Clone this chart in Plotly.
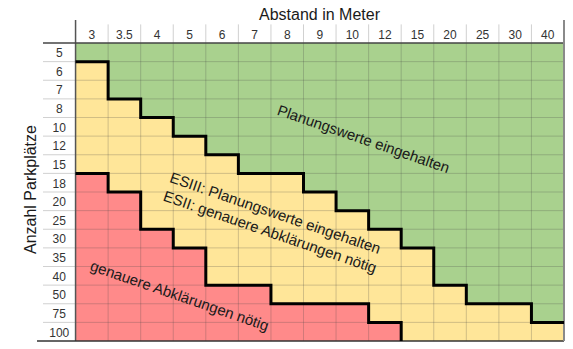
import plotly.graph_objects as go

# Distances (columns) and number of parking spaces (rows)
abstand = ["3", "3.5", "4", "5", "6", "7", "8", "9", "10", "12", "15", "20", "25", "30", "40"]
parkplaetze = ["5", "6", "7", "8", "10", "12", "15", "18", "20", "25", "30", "35", "40", "50", "75", "100"]

# Index of the first row that is no longer green (per column)
grenze_gruen = [1, 3, 4, 5, 6, 7, 7, 8, 9, 10, 11, 13, 14, 14, 15]
# Index of the first red row (per column); 16 = no red cells
grenze_rot = [7, 8, 10, 11, 13, 13, 14, 14, 14, 15, 16, 16, 16, 16, 16]

GREEN = "#A9D18E"
YELLOW = "#FFE699"
RED = "#FF8A8A"
FONT = "Liberation Sans, Arial, sans-serif"

n_cols = len(abstand)
n_rows = len(parkplaetze)

# zone per cell: 0 green, 1 yellow, 2 red
z = []
for r in range(n_rows):
    row = []
    for c in range(n_cols):
        if r < grenze_gruen[c]:
            row.append(0)
        elif r < grenze_rot[c]:
            row.append(1)
        else:
            row.append(2)
    z.append(row)

fig = go.Figure()

fig.add_trace(go.Heatmap(
    x=list(range(n_cols)), y=list(range(n_rows)), z=z,
    zmin=0, zmax=2, showscale=False, hoverinfo="skip",
    colorscale=[[0, GREEN], [1/3, GREEN], [1/3, YELLOW], [2/3, YELLOW], [2/3, RED], [1, RED]],
))

# thin grid lines (cells + header row/column)
gx, gy = [], []
for i in range(n_cols - 1):
    gx += [i + 0.5, i + 0.5, None]
    gy += [-1.5, n_rows - 0.5, None]
for j in range(n_rows - 1):
    gx += [-1.5, n_cols - 0.5, None]
    gy += [j + 0.5, j + 0.5, None]
fig.add_trace(go.Scatter(x=gx, y=gy, mode="lines", hoverinfo="skip",
                         line=dict(color="rgba(70,70,70,0.25)", width=1)))

# table frame
fig.add_trace(go.Scatter(x=[-0.5, -0.5], y=[-1.735, n_rows - 0.5], mode="lines",
                         hoverinfo="skip", line=dict(color="#555555", width=1.5)))
fig.add_trace(go.Scatter(x=[-1.5, n_cols - 0.5], y=[-0.5, -0.5], mode="lines",
                         hoverinfo="skip", line=dict(color="#444444", width=1.5)))
fig.add_trace(go.Scatter(x=[-1.684, n_cols - 0.5], y=[n_rows - 0.5, n_rows - 0.5], mode="lines",
                         hoverinfo="skip", line=dict(color="#333333", width=1.5)))
fig.add_trace(go.Scatter(x=[n_cols - 0.5, n_cols - 0.5], y=[-1.735, n_rows - 0.5], mode="lines",
                         hoverinfo="skip", line=dict(color="#8a8a8a", width=2)))


def staircase(bounds):
    xs, ys = [-0.5], [bounds[0] - 0.5]
    for c in range(n_cols):
        if bounds[c] >= n_rows:
            xs.append(c - 0.5)
            ys.append(n_rows - 0.5)
            break
        xs.append(c + 0.5)
        ys.append(bounds[c] - 0.5)
        if c + 1 < n_cols:
            xs.append(c + 0.5)
            ys.append(min(bounds[c + 1], n_rows) - 0.5)
    return xs, ys


for b in (grenze_gruen, grenze_rot):
    sx, sy = staircase(b)
    fig.add_trace(go.Scatter(x=sx, y=sy, mode="lines", hoverinfo="skip",
                             line=dict(color="black", width=3)))

# header labels
fig.add_trace(go.Scatter(x=list(range(n_cols)), y=[-0.87] * n_cols, text=abstand,
                         mode="text", hoverinfo="skip",
                         textfont=dict(family=FONT, size=12, color="#333333")))
fig.add_trace(go.Scatter(x=[-1] * n_rows, y=[j + 0.1 for j in range(n_rows)], text=parkplaetze,
                         mode="text", hoverinfo="skip",
                         textfont=dict(family=FONT, size=12, color="#333333")))

zone_font = dict(family=FONT, size=15, color="#1a1a1a")
annotations = [
    dict(text="Planungswerte eingehalten", x=8.33, y=4.65, textangle=19, font=zone_font),
    dict(text="ESIII: Planungswerte eingehalten<br>ESII: genauere Abklärungen nötig",
         x=5.56, y=9.16, textangle=19, align="left", font=zone_font),
    dict(text="genauere Abklärungen nötig", x=2.71, y=13.03, textangle=19, font=zone_font),
]
for a in annotations:
    a.update(xref="x", yref="y", showarrow=False, xanchor="center", yanchor="middle")

annotations.append(dict(text="Abstand in Meter", xref="paper", yref="paper", x=(320 - 35) / 532,
                        y=(343 - 15) / 324, showarrow=False, xanchor="center", yanchor="middle",
                        font=dict(family=FONT, size=16, color="#1a1a1a")))
annotations.append(dict(text="Anzahl Parkplätze", xref="paper", yref="paper", x=(30 - 35) / 532,
                        y=(343 - 190) / 324, showarrow=False, xanchor="center", yanchor="middle",
                        textangle=-90, font=dict(family=FONT, size=16, color="#1a1a1a")))

fig.update_layout(
    width=573, height=349,
    margin=dict(l=35, r=6, t=19, b=6),
    paper_bgcolor="white", plot_bgcolor="white",
    showlegend=False,
    annotations=annotations,
    xaxis=dict(range=[-1.7457, 14.592], visible=False, fixedrange=True),
    yaxis=dict(range=[15.607, -1.7886], visible=False, fixedrange=True),
)

fig.write_html("out.html")
